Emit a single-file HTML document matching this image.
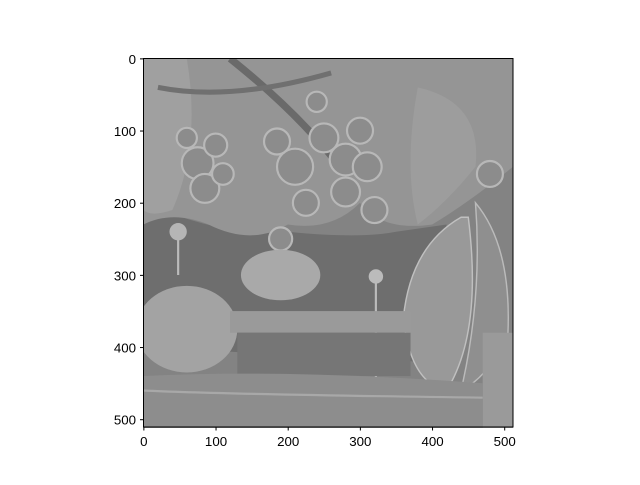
<!DOCTYPE html>
<html><head><meta charset="utf-8"><style>
body{margin:0;background:#fff;}
svg text{font-family:"Liberation Sans",sans-serif;font-size:13.3px;fill:#000;}
</style></head><body>
<svg width="640" height="480" viewBox="0 0 640 480">
<defs><clipPath id="c"><rect width="512" height="512"/></clipPath></defs>
<g transform="translate(143.5,58.5) scale(0.7217)" clip-path="url(#c)">
<rect width="512" height="512" fill="#838383"/>
<path d="M0 200 Q120 250 200 240 Q300 250 350 240 L420 230 L380 420 L0 400 Z" fill="#6e6e6e"/>
<path d="M0 0 L512 0 L512 150 Q450 200 400 230 Q330 240 300 200 Q260 240 200 230 Q150 260 90 230 Q40 210 0 230 Z" fill="#959595"/>
<path d="M0 0 L60 0 Q80 120 40 210 Q10 220 0 210 Z" fill="#a0a0a0"/>
<path d="M380 40 Q470 60 460 150 Q420 200 380 230 Q360 150 380 40 Z" fill="#9d9d9d"/>
<path d="M120 0 Q220 80 280 160" stroke="#6a6a6a" stroke-width="10" fill="none"/>
<path d="M20 40 Q120 60 260 20" stroke="#707070" stroke-width="7" fill="none"/>
<g fill="#8c8c8c" stroke="#b8b8b8" stroke-width="3">
<circle cx="75" cy="145" r="22"/><circle cx="100" cy="120" r="16"/><circle cx="85" cy="180" r="20"/>
<circle cx="60" cy="110" r="14"/><circle cx="110" cy="160" r="15"/>
<circle cx="210" cy="150" r="25"/><circle cx="250" cy="110" r="20"/><circle cx="280" cy="140" r="22"/>
<circle cx="300" cy="100" r="18"/><circle cx="225" cy="200" r="18"/><circle cx="280" cy="185" r="20"/>
<circle cx="310" cy="150" r="20"/><circle cx="185" cy="115" r="18"/><circle cx="190" cy="250" r="16"/>
<circle cx="240" cy="60" r="14"/><circle cx="320" cy="210" r="18"/><circle cx="480" cy="160" r="18"/>
</g>
<path d="M440 220 Q370 260 360 360 Q370 450 420 460 Q470 380 450 220 Z" fill="#999" stroke="#c0c0c0" stroke-width="2"/>
<path d="M460 200 Q510 260 505 380 Q480 440 440 460 Q470 330 460 200 Z" fill="#8f8f8f" stroke="#bbb" stroke-width="2"/>
<rect x="470" y="380" width="42" height="132" fill="#9a9a9a"/>
<ellipse cx="60" cy="375" rx="70" ry="60" fill="#a3a3a3"/>
<ellipse cx="190" cy="300" rx="55" ry="35" fill="#a9a9a9"/>
<path d="M48 240 l0 60" stroke="#bbb" stroke-width="3"/><circle cx="48" cy="240" r="12" fill="#b5b5b5"/>
<path d="M322 300 l0 150" stroke="#bbb" stroke-width="3"/><circle cx="322" cy="302" r="10" fill="#bbb"/>
<rect x="120" y="350" width="250" height="30" fill="#9a9a9a"/>
<rect x="130" y="380" width="240" height="60" fill="#767676"/>
<path d="M0 440 Q200 430 470 450 L470 512 L0 512 Z" fill="#8d8d8d"/>
<path d="M0 460 Q100 465 470 470" stroke="#a8a8a8" stroke-width="3" fill="none"/>
</g>
<rect x="143.5" y="58.5" width="369.5" height="368.5" fill="none" stroke="#000" stroke-width="1"/>
<g id="ticks"></g>
</svg>
<script>
const xTicks=[0,100,200,300,400,500];
const yTicks=[0,100,200,300,400,500];
const x0=143.5,y0=58.5,s=0.7217,ns="http://www.w3.org/2000/svg";
const g=document.getElementById('ticks');
const fx=v=>x0+(v+0.5)*s, fy=v=>y0+(v+0.5)*s;
xTicks.forEach(v=>{
 const l=document.createElementNS(ns,'line');
 
 
 l.setAttribute('x1',fx(v));l.setAttribute('x2',fx(v));l.setAttribute('y1',427);l.setAttribute('y2',430.5);l.setAttribute('stroke','#000');g.appendChild(l);
 const t=document.createElementNS(ns,'text');
 
 
 t.setAttribute('x',fx(v));t.setAttribute('y',446);t.setAttribute('text-anchor','middle');t.textContent=v;g.appendChild(t);
});
yTicks.forEach(v=>{
 const l=document.createElementNS(ns,'line');
 
 
 l.setAttribute('x1',140);l.setAttribute('x2',143.5);l.setAttribute('y1',fy(v));l.setAttribute('y2',fy(v));l.setAttribute('stroke','#000');g.appendChild(l);
 const t=document.createElementNS(ns,'text');
 
 
 t.setAttribute('x',136);t.setAttribute('y',fy(v)+5);t.setAttribute('text-anchor','end');t.textContent=v;g.appendChild(t);
});
</script>
</body></html>
